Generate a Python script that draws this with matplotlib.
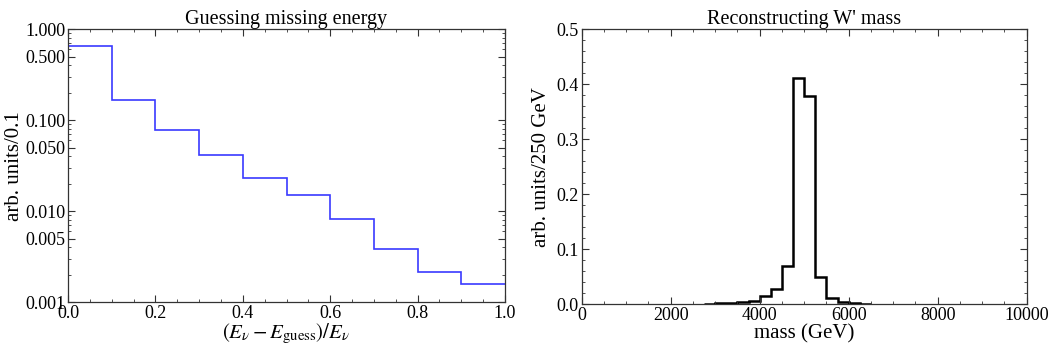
import matplotlib
matplotlib.use("Agg")
import matplotlib.pyplot as plt
from matplotlib.ticker import MultipleLocator, FixedLocator, LogLocator, FormatStrFormatter
import numpy as np

plt.rcParams["font.family"] = ["Liberation Serif", "DejaVu Serif"]
plt.rcParams["mathtext.fontset"] = "stix"

# left panel: fractional missing-energy error, bins of 0.1
FRAC_EDGES = [0.0, 0.1, 0.2, 0.3, 0.4, 0.5, 0.6, 0.7, 0.8, 0.9, 1.0]
FRAC_VALS = [0.66, 0.165, 0.0785, 0.0414, 0.0230, 0.0151, 0.00814, 0.00388, 0.00215, 0.00160]

# right panel: reconstructed W' mass, bins of 250 GeV
MASS_EDGES = [2750, 3000, 3250, 3500, 3750, 4000, 4250, 4500, 4750, 5000,
              5250, 5500, 5750, 6000, 6250, 6500]
MASS_VALS = [0.0008, 0.0015, 0.0025, 0.004, 0.0067, 0.0145, 0.0285, 0.0697,
             0.412, 0.378, 0.050, 0.012, 0.004, 0.0015, 0.0005]

fig = plt.figure(figsize=(10.53, 3.51), dpi=100)
ax1 = fig.add_axes([0.0646, 0.139, 0.415, 0.778])
ax2 = fig.add_axes([0.5524, 0.133, 0.4226, 0.784])

for ax in (ax1, ax2):
    for s in ax.spines.values():
        s.set_color("#333333")
        s.set_linewidth(0.9)
    ax.tick_params(which="both", direction="in", top=True, right=True,
                   labelsize=13, color="#333333", pad=2)
    ax.tick_params(which="major", length=5, width=0.8)
    ax.tick_params(which="minor", length=2.5, width=0.6)

# left
ax1.stairs(FRAC_VALS, FRAC_EDGES, baseline=None, color="#3a3aff", lw=1.2)
ax1.set_yscale("log")
ax1.set_xlim(0, 1)
ax1.set_ylim(0.001, 1.0)
ax1.yaxis.set_major_locator(FixedLocator([0.001, 0.005, 0.01, 0.05, 0.1, 0.5, 1.0]))
ax1.yaxis.set_major_formatter(FormatStrFormatter("%.3f"))
ax1.yaxis.set_minor_locator(LogLocator(base=10, subs=[2, 3, 4, 6, 7, 8, 9]))
ax1.yaxis.set_minor_formatter(plt.NullFormatter())
ax1.xaxis.set_major_locator(MultipleLocator(0.2))
ax1.xaxis.set_minor_locator(MultipleLocator(0.05))
ax1.xaxis.set_major_formatter(FormatStrFormatter("%.1f"))
ax1.set_xlabel(r"$(E_\nu - E_{\rm guess})/E_\nu$", fontsize=15, labelpad=0)
ax1.set_ylabel("arb. units/0.1", fontsize=15, labelpad=1)
ax1.set_title("Guessing missing energy", fontsize=14.5, pad=4)

# right
ax2.stairs(MASS_VALS, MASS_EDGES, baseline=0, color="black", lw=1.8)
ax2.set_xlim(0, 10000)
ax2.set_ylim(0, 0.5)
ax2.xaxis.set_major_locator(MultipleLocator(2000))
ax2.xaxis.set_minor_locator(MultipleLocator(500))
ax2.yaxis.set_major_locator(MultipleLocator(0.1))
ax2.yaxis.set_minor_locator(MultipleLocator(0.02))
ax2.yaxis.set_major_formatter(FormatStrFormatter("%.1f"))
ax2.set_xlabel("mass (GeV)", fontsize=15, labelpad=0)
ax2.set_ylabel("arb. units/250 GeV", fontsize=15, labelpad=4)
ax2.set_title("Reconstructing W' mass", fontsize=14.5, pad=4)

fig.savefig("out.png", dpi=100)
